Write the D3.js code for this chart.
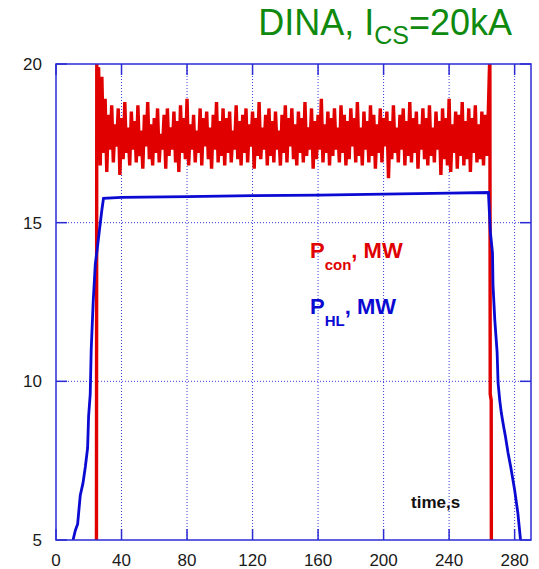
<!DOCTYPE html>
<html>
<head>
<meta charset="utf-8">
<script src="https://cdn.jsdelivr.net/npm/d3@7"></script>
<style>
  body { margin: 0; background: #fff; }
  svg { display: block; }
  text { font-family: "Liberation Sans", Arial, sans-serif; }
</style>
</head>
<body>
<div id="chart"></div>
<script>
// axis ticks
var xTicks = [0, 40, 80, 120, 160, 200, 240, 280];
var yTicks = [5, 10, 15, 20];

// P_con: edges of the pulse (time, MW)
var conHeadTime = [24.7, 24.9, 25.3, 25.6];
var conHeadValue = [5, 20, 17.0, 19.8];
// P_con: plateau noise, one sample per second from t=26
var conNoiseStart = 26;
var conNoise = [
  19.9,16.8,19.6,17.2,18.9,16.6,18.4,17.3,18.7,16.9,18.1,17.4,18.6,16.5,18.3,17.0,18.8,17.2,18.0,16.8,
  18.5,17.3,18.2,16.9,18.7,17.1,17.9,16.7,18.4,17.4,18.8,17.0,18.1,16.8,18.3,17.2,18.6,16.9,17.8,17.3,
  18.4,16.7,18.6,17.1,18.0,17.3,18.5,16.9,18.2,16.6,18.7,17.2,18.3,17.0,18.9,16.8,18.1,17.3,18.4,16.9,
  17.9,17.2,18.6,16.8,18.3,17.4,18.5,17.0,18.0,16.7,18.4,17.3,18.8,16.9,18.2,17.1,18.6,16.8,18.3,17.2,
  18.5,16.9,17.9,17.3,18.7,17.0,18.2,16.8,18.4,17.2,18.6,16.9,18.1,17.4,18.5,16.7,18.3,17.1,18.8,17.0,
  18.0,17.3,18.4,16.8,18.6,17.1,18.2,16.9,18.5,17.3,17.9,16.8,18.4,17.2,18.7,16.9,18.3,17.4,18.6,17.0,
  18.1,16.8,18.5,17.2,18.3,16.9,18.8,17.1,18.0,17.3,18.6,16.7,18.2,17.0,18.4,17.3,18.9,16.9,18.1,17.2,
  18.5,16.8,18.3,17.1,18.6,17.3,18.0,16.9,18.7,17.2,18.4,16.8,18.2,17.0,18.6,17.4,18.3,16.9,18.8,17.1,
  18.0,16.8,18.5,17.3,18.2,16.9,18.7,17.1,18.4,16.7,18.1,17.2,18.6,16.9,18.3,17.4,18.5,16.4,18.2,17.0,
  18.7,17.2,18.0,16.9,18.4,17.3,18.6,16.8,18.2,17.1,18.8,16.9,18.3,17.2,18.5,16.7,18.1,17.3,18.6,17.0,
  18.3,16.8,18.7,17.1,18.0,16.9,18.5,17.3,18.2,16.5,18.6,17.0,18.3,16.8,18.9,16.6,18.1,17.2,18.5,16.7,
  18.4,17.1,18.8,16.8,18.2,17.0,18.6,16.6,18.3,17.2,18.7,16.9,18.1,17.0,18.5,16.8,18.4,17.1,18.6
];
var conTailTime = [264.7, 264.9, 265.1, 265.7, 265.8];
var conTailValue = [20, 20, 9.6, 9.4, 5];

// P_HL (time, MW)
var hlTime = [10.4, 11.8, 12.5, 13.2, 14.8, 16.5, 17.9, 19.3, 19.9, 20.9, 21.5, 22.7, 24, 25, 26.6, 28, 29,
  40, 80, 120, 160, 200, 240, 264, 265.2, 266.5, 266.8, 267.9, 269.3, 269.9, 270.9, 271.9, 273.3, 274.4,
  276, 277.6, 280, 282, 283.6];
var hlValue = [5.0, 5.3, 5.4, 5.5, 6.4, 6.8, 7.3, 7.9, 8.9, 9.6, 11.0, 12.5, 13.7, 14.1, 14.8, 15.4, 15.77,
  15.8, 15.82, 15.85, 15.87, 15.9, 15.93, 15.95, 14.7, 14.04, 13.04, 11.93, 10.93, 9.95, 9.41, 9.0, 8.57, 8.26,
  7.74, 7.31, 6.58, 5.84, 5.0];

var W = 539, H = 569;
var margin = { top: 64, right: 8, bottom: 29, left: 56 },
  width = W - margin.left - margin.right,
  height = H - margin.top - margin.bottom;

var svg = d3.select("#chart").append("svg")
  .attr("width", W).attr("height", H);

var g = svg.append("g")
  .attr("transform", "translate(" + margin.left + "," + margin.top + ")");

var x = d3.scaleLinear().domain([0, 290]).range([0, width]);
var y = d3.scaleLinear().domain([5, 20]).range([height, 0]);

var frameColor = "#2b2bd6";

// dotted grid
g.selectAll(".vgrid")
  .data(xTicks.filter(function (d) { return d > 0; }))
  .enter().append("line")
  .attr("x1", function (d) { return x(d); }).attr("x2", function (d) { return x(d); })
  .attr("y1", 0).attr("y2", height)
  .attr("stroke", "#3a3ae0").attr("stroke-width", 1)
  .attr("stroke-dasharray", "1,2");
g.selectAll(".hgrid")
  .data(yTicks.filter(function (d) { return d > 5 && d < 20; }))
  .enter().append("line")
  .attr("x1", 0).attr("x2", width)
  .attr("y1", function (d) { return y(d); }).attr("y2", function (d) { return y(d); })
  .attr("stroke", "#3a3ae0").attr("stroke-width", 1)
  .attr("stroke-dasharray", "1,2");

// inward ticks on all four sides
var tl = 11;
var tickG = g.append("g").attr("stroke", frameColor).attr("stroke-width", 1.5);
xTicks.forEach(function (d) {
  tickG.append("line").attr("x1", x(d)).attr("x2", x(d)).attr("y1", height).attr("y2", height - tl);
  tickG.append("line").attr("x1", x(d)).attr("x2", x(d)).attr("y1", 0).attr("y2", tl);
});
yTicks.forEach(function (d) {
  tickG.append("line").attr("x1", 0).attr("x2", tl).attr("y1", y(d)).attr("y2", y(d));
  tickG.append("line").attr("x1", width).attr("x2", width - tl).attr("y1", y(d)).attr("y2", y(d));
});

// tick labels
g.selectAll(".xl").data(xTicks).enter().append("text")
  .attr("x", function (d) { return x(d); })
  .attr("y", height + 26)
  .attr("text-anchor", "middle")
  .attr("font-size", 17).attr("fill", "#1a1a1a")
  .text(function (d) { return d; });
g.selectAll(".yl").data(yTicks).enter().append("text")
  .attr("x", -14)
  .attr("y", function (d) { return y(d); })
  .attr("dy", "0.35em")
  .attr("text-anchor", "end")
  .attr("font-size", 17).attr("fill", "#1a1a1a")
  .text(function (d) { return d; });

// series
var line = d3.line()
  .x(function (d) { return x(d[0]); })
  .y(function (d) { return y(d[1]); });

var conData = conHeadTime.map(function (t, i) { return [t, conHeadValue[i]]; })
  .concat(conNoise.map(function (v, i) { return [conNoiseStart + i, v]; }))
  .concat(conTailTime.map(function (t, i) { return [t, conTailValue[i]]; }));
var hlData = hlTime.map(function (t, i) { return [t, hlValue[i]]; });

g.append("clipPath").attr("id", "clip")
  .append("rect").attr("width", width).attr("height", height);

g.append("path")
  .datum(conData)
  .attr("clip-path", "url(#clip)")
  .attr("fill", "none")
  .attr("stroke", "#e00000")
  .attr("stroke-width", 3.4)
  .attr("stroke-linejoin", "bevel")
  .attr("d", line);

g.append("path")
  .datum(hlData)
  .attr("clip-path", "url(#clip)")
  .attr("fill", "none")
  .attr("stroke", "#0a0ad2")
  .attr("stroke-width", 2.8)
  .attr("d", line);

// frame
g.append("rect")
  .attr("width", width).attr("height", height)
  .attr("fill", "none").attr("stroke", frameColor).attr("stroke-width", 1.5);

// legend labels
var l1 = svg.append("text").attr("x", 310).attr("y", 258)
  .attr("font-weight", "bold").attr("font-size", 22).attr("fill", "#e00000");
l1.append("tspan").text("P");
l1.append("tspan").attr("font-size", 15).attr("dy", 12).text("con");
l1.append("tspan").attr("dy", -12).text(", MW");

var l2 = svg.append("text").attr("x", 310).attr("y", 314)
  .attr("font-weight", "bold").attr("font-size", 22).attr("fill", "#0a0ad2");
l2.append("tspan").text("P");
l2.append("tspan").attr("font-size", 15).attr("dy", 12).text("HL");
l2.append("tspan").attr("dy", -12).text(", MW");

svg.append("text").attr("x", 411).attr("y", 508)
  .attr("font-weight", "bold").attr("font-size", 17).attr("fill", "#111")
  .text("time,s");

// title
var title = svg.append("text").attr("x", 512).attr("y", 35)
  .attr("text-anchor", "end")
  .attr("font-size", 36).attr("fill", "#0f8a0f");
title.append("tspan").text("DINA, I");
title.append("tspan").attr("font-size", 25).attr("dy", 9).text("CS");
title.append("tspan").attr("dy", -9).text("=20kA");
</script>
</body>
</html>
